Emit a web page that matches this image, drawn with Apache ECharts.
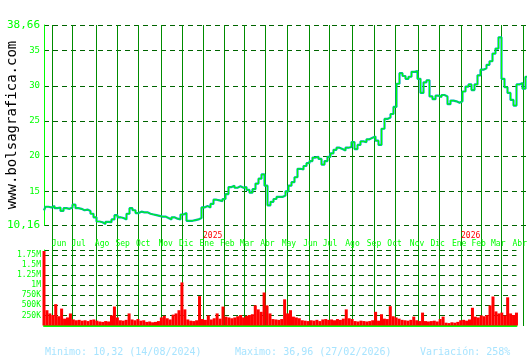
<!DOCTYPE html>
<html><head><meta charset="utf-8">
<script src="https://cdn.jsdelivr.net/npm/echarts@6/dist/echarts.min.js"></script>
<style>html,body{margin:0;padding:0;background:#fff}#c{width:530px;height:360px}</style>
</head><body><div id="c"></div>
<script>
// Month boundaries on a trading-day axis (index 0 = first session shown)
const monthLabels = ['Jun','Jul','Ago','Sep','Oct','Nov','Dic','Ene','Feb','Mar','Abr','May','Jun','Jul','Ago','Sep','Oct','Nov','Dic','Ene','Feb','Mar','Abr'];
const monthStart = [8,28,52,73,94,117,138,159,180,200,221,243,265,285,308,330,351,374,395,417,437,457,479];
const yearLabels = ['2025','2026'];
const yearStart = [159,417];
const totalDays = 483;
const dayStep = 3; // one reading every 3 sessions

// Closing price, one reading every 3 sessions
const closePrice = [
 12.3,12.8,12.7,12.9,12.6,12.7,12.2,12.6,12.5,12.7,
 13.1,12.6,12.5,12.3,12.4,12.2,11.8,11.3,10.7,10.6,
 10.35,10.65,10.6,11.0,11.6,11.3,11.2,11.0,11.8,12.6,
 12.3,11.9,12.1,12.0,12.0,11.8,11.7,11.6,11.5,11.4,
 11.4,11.2,11.0,11.3,11.1,11.0,11.7,11.9,10.8,10.8,
 10.9,11.0,11.2,12.7,12.9,12.7,13.2,13.8,13.7,13.6,
 13.9,14.6,15.6,15.8,15.5,15.7,15.5,15.6,15.2,14.8,
 15.3,16.1,16.8,17.4,15.8,13.0,13.5,13.9,14.2,14.2,
 14.4,15.0,15.8,16.3,17.0,18.2,18.1,18.6,19.0,19.3,
 19.8,19.9,19.6,18.8,19.3,19.9,20.4,20.9,21.2,21.0,
 20.8,21.2,21.3,22.0,21.0,21.6,22.1,22.0,22.4,22.6,
 22.8,22.2,21.6,23.9,25.3,25.5,26.0,27.0,30.3,31.8,
 31.4,31.0,31.3,32.0,32.1,31.0,29.0,30.5,30.8,28.5,
 28.1,28.6,28.4,28.7,28.5,27.4,27.9,27.8,27.6,27.8,
 29.2,29.9,30.2,29.4,30.2,31.5,32.3,32.5,33.0,33.5,
 34.6,35.3,36.9,31.0,29.8,29.0,28.0,27.2,30.2,30.4,
 29.6,31.3
];

// Volume in thousands, same sampling
const volumeK = [
 1850,380,300,260,530,230,420,170,200,300,
 150,130,140,120,130,110,140,150,120,100,
 90,110,100,250,470,200,130,120,140,300,
 150,130,160,120,130,90,100,80,90,110,
 200,240,180,150,270,300,380,1070,400,150,
 120,110,130,730,160,140,250,150,180,300,
 170,470,220,200,180,200,230,260,200,240,
 260,280,500,400,340,820,500,300,160,150,
 140,160,650,300,380,220,200,180,130,120,
 110,130,120,140,110,150,160,140,150,130,
 160,140,170,400,180,160,110,100,120,110,
 100,110,130,340,120,280,170,160,480,230,
 200,170,140,130,120,140,220,130,110,320,
 110,100,110,120,100,160,220,70,60,80,
 70,90,130,140,120,150,440,220,200,250,
 230,260,500,720,350,300,320,250,700,300,
 260,320
];

const priceTicks = [10.16,15,20,25,30,35,38.66];
const priceMin = 10.16, priceMax = 38.66;
const volMax = 1875000, volStep = 250000;

const statsMin = 'Minimo: 10,32 (14/08/2024)';
const statsMax = 'Maximo: 36,96 (27/02/2026)';
const statsVar = 'Variación: 258%';
const siteText = 'www.bolsagrafica.com';

const FONT = '"DejaVu Sans Mono", "Liberation Mono", monospace';
const pricePairs = closePrice.map((v,i)=>[i*dayStep, v]);
const volPairs = volumeK.map((v,i)=>[i*dayStep, v*1000]);

const dashStyle = {color:'#006400', width:1, type:[5,4]};
const chart = echarts.init(document.getElementById('c'), null, {renderer:'canvas'});
chart.setOption({
  animation:false,
  backgroundColor:'#ffffff',
  grid:[
    {left:44, top:25, width:totalDays, height:200.3},
    {left:44, top:250, width:totalDays, height:75.5},
    {left:44, top:25, width:totalDays, height:301}
  ],
  xAxis:[
    {gridIndex:0, type:'value', min:0, max:totalDays,
      axisLine:{show:false}, axisTick:{show:false}, splitLine:{show:false},
      axisLabel:{customValues:yearStart, formatter:v=>yearLabels[yearStart.indexOf(v)],
        color:'#ff0000', fontSize:8, fontFamily:FONT, align:'left', margin:7}},
    {gridIndex:1, type:'value', min:0, max:totalDays, position:'top',
      axisLine:{show:false}, axisTick:{show:false}, splitLine:{show:false},
      axisLabel:{customValues:monthStart, formatter:v=>monthLabels[monthStart.indexOf(v)],
        color:'#00ff00', fontSize:8, fontFamily:FONT, align:'left', margin:2}},
    {gridIndex:2, type:'value', min:0, max:totalDays,
      axisLine:{show:false}, axisLabel:{show:false},
      axisTick:{show:false, customValues:monthStart},
      splitLine:{show:true, lineStyle:{color:'#008c00', width:1}}},
    {gridIndex:1, type:'value', min:0, max:totalDays, position:'bottom',
      axisLine:{show:true, lineStyle:{color:'#00ff00', width:2}},
      axisTick:{show:false}, axisLabel:{show:false}, splitLine:{show:false}}
  ],
  yAxis:[
    {gridIndex:0, type:'value', min:priceMin, max:priceMax,
      axisLine:{show:true, lineStyle:{color:'#00ff00', width:1}},
      axisTick:{show:false, customValues:priceTicks},
      splitLine:{show:true, lineStyle:dashStyle},
      axisLabel:{customValues:priceTicks, margin:4,
        formatter:v=>{
          const t = (Math.abs(v-Math.round(v))<1e-6)? String(Math.round(v)) : v.toFixed(2).replace('.',',');
          return (v===priceMin||v===priceMax)? '{b|'+t+'}' : '{s|'+t+'}';
        },
        rich:{b:{color:'#00ff00', fontSize:11, fontFamily:FONT}, s:{color:'#00ff00', fontSize:9, fontFamily:FONT}}}},
    {gridIndex:1, type:'value', min:0, max:volMax, interval:volStep,
      axisLine:{show:true, lineStyle:{color:'#00ff00', width:1}},
      axisTick:{show:false},
      splitLine:{show:true, lineStyle:dashStyle},
      axisLabel:{margin:3, color:'#00ff00', fontSize:8, fontFamily:FONT,
        formatter:v=> v===0 ? '' : (v>=1000000 ? (v/1000000)+'M' : (v/1000)+'K')}},
    {gridIndex:2, type:'value', min:0, max:1, show:false}
  ],
  series:[
    {type:'line', xAxisIndex:0, yAxisIndex:0, data:pricePairs, symbol:'none', step:'middle',
      lineStyle:{color:'#00aabb', width:2.2}, z:3},
    {type:'line', xAxisIndex:0, yAxisIndex:0, data:pricePairs, symbol:'none', step:'middle',
      lineStyle:{color:'#00ff00', width:1}, z:4},
    {type:'bar', xAxisIndex:1, yAxisIndex:1, data:volPairs, barWidth:3,
      itemStyle:{color:'#ff0000'}, z:3}
  ],
  graphic:[
    {type:'text', x:12, y:125, rotation:Math.PI/2,
      style:{text:siteText, font:'14px '+FONT, fill:'#000000', align:'center', verticalAlign:'middle'}},
    {type:'text', x:45, y:352, style:{text:statsMin, font:'10px '+FONT, fill:'#a8e4ff', verticalAlign:'middle'}},
    {type:'text', x:235, y:352, style:{text:statsMax, font:'10px '+FONT, fill:'#a8e4ff', verticalAlign:'middle'}},
    {type:'text', x:420, y:352, style:{text:statsVar, font:'10px '+FONT, fill:'#a8e4ff', verticalAlign:'middle'}}
  ]
});
</script></body></html>
